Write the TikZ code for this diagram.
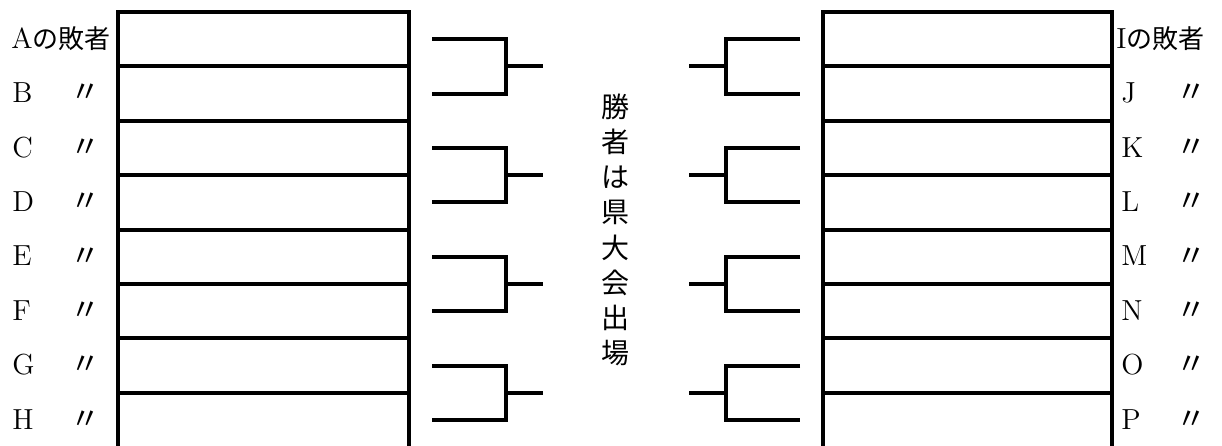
\documentclass[tikz,border=0pt]{standalone}
\usepackage{fontspec}
\newfontfamily\jp{Noto Sans CJK JP}
\tikzset{
        frame/.style={draw=black, line width=2pt},
        bracket/.style={draw=black, line width=2pt},
        lbl/.style={inner sep=0pt, anchor=base west, font=\fontsize{14.5}{16}\selectfont},
        ditto/.style={inner sep=0pt, font=\jp\fontsize{15}{17}\selectfont},
        vchar/.style={inner sep=0pt, font=\jp\fontsize{14}{16}\selectfont}
          }

\begin{document}
\begin{tikzpicture}[x=0.5pt, y=-0.5pt]
        \useasboundingbox (0,0) rectangle (1222,445);
        % left and right tables
        \draw[frame] (118,470) -- (118,12) -- (409,12) -- (409,470);
        \draw[frame] (823,470) -- (823,12) -- (1112,12) -- (1112,470);
        \foreach \k in {1,...,7}{
          \draw[frame] (118,{12+54.4*\k}) -- (409,{12+54.4*\k});
          \draw[frame] (823,{12+54.4*\k}) -- (1112,{12+54.4*\k});
        }
        % brackets
        \foreach \p in {0,...,3}{
          \pgfmathsetmacro\ya{39.2+108.8*\p}
          \pgfmathsetmacro\yb{\ya+54.4}
          \pgfmathsetmacro\ym{\ya+27.2}
          \coordinate (la\p) at (432,\ya);
          \coordinate (lb\p) at (432,\yb);
          \coordinate (lj\p) at (506,\ym);
          \coordinate (lo\p) at (543,\ym);
          \coordinate (ra\p) at (800,\ya);
          \coordinate (rb\p) at (800,\yb);
          \coordinate (rj\p) at (726,\ym);
          \coordinate (ro\p) at (689,\ym);
          \draw[bracket] (la\p) -| (lj\p) |- (lb\p);
          \draw[bracket] (lj\p) -- (lo\p);
          \draw[bracket] (ra\p) -| (rj\p) |- (rb\p);
          \draw[bracket] (rj\p) -- (ro\p);
        }
        % labels
        \node[lbl] (nA) at (11,48.2) {A{\jp\fontsize{13}{15}\selectfont の敗者}};
        \node[lbl] (nI) at (1116,48.2) {I{\jp\fontsize{13}{15}\selectfont の敗者}};
        \foreach \n/\m [count=\i] in {B/J,C/K,D/L,E/M,F/N,G/O,H/P}{
          \node[lbl] (n\n) at (12,{48.2+54.4*\i}) {\n};
          \node[ditto] (d\n) at (85,{39.2+54.4*\i}) {〃};
          \node[lbl] (n\m) at (1121,{48.2+54.4*\i}) {\m};
          \node[ditto] (d\m) at (1191,{39.2+54.4*\i}) {〃};
        }
        % winner text
        \foreach \c [count=\i] in {勝,者,は,県,大,会,出,場}
          \node[vchar] (v\i) at (615,{107+35.1*(\i-1)}) {\c};
\end{tikzpicture}
\end{document}
